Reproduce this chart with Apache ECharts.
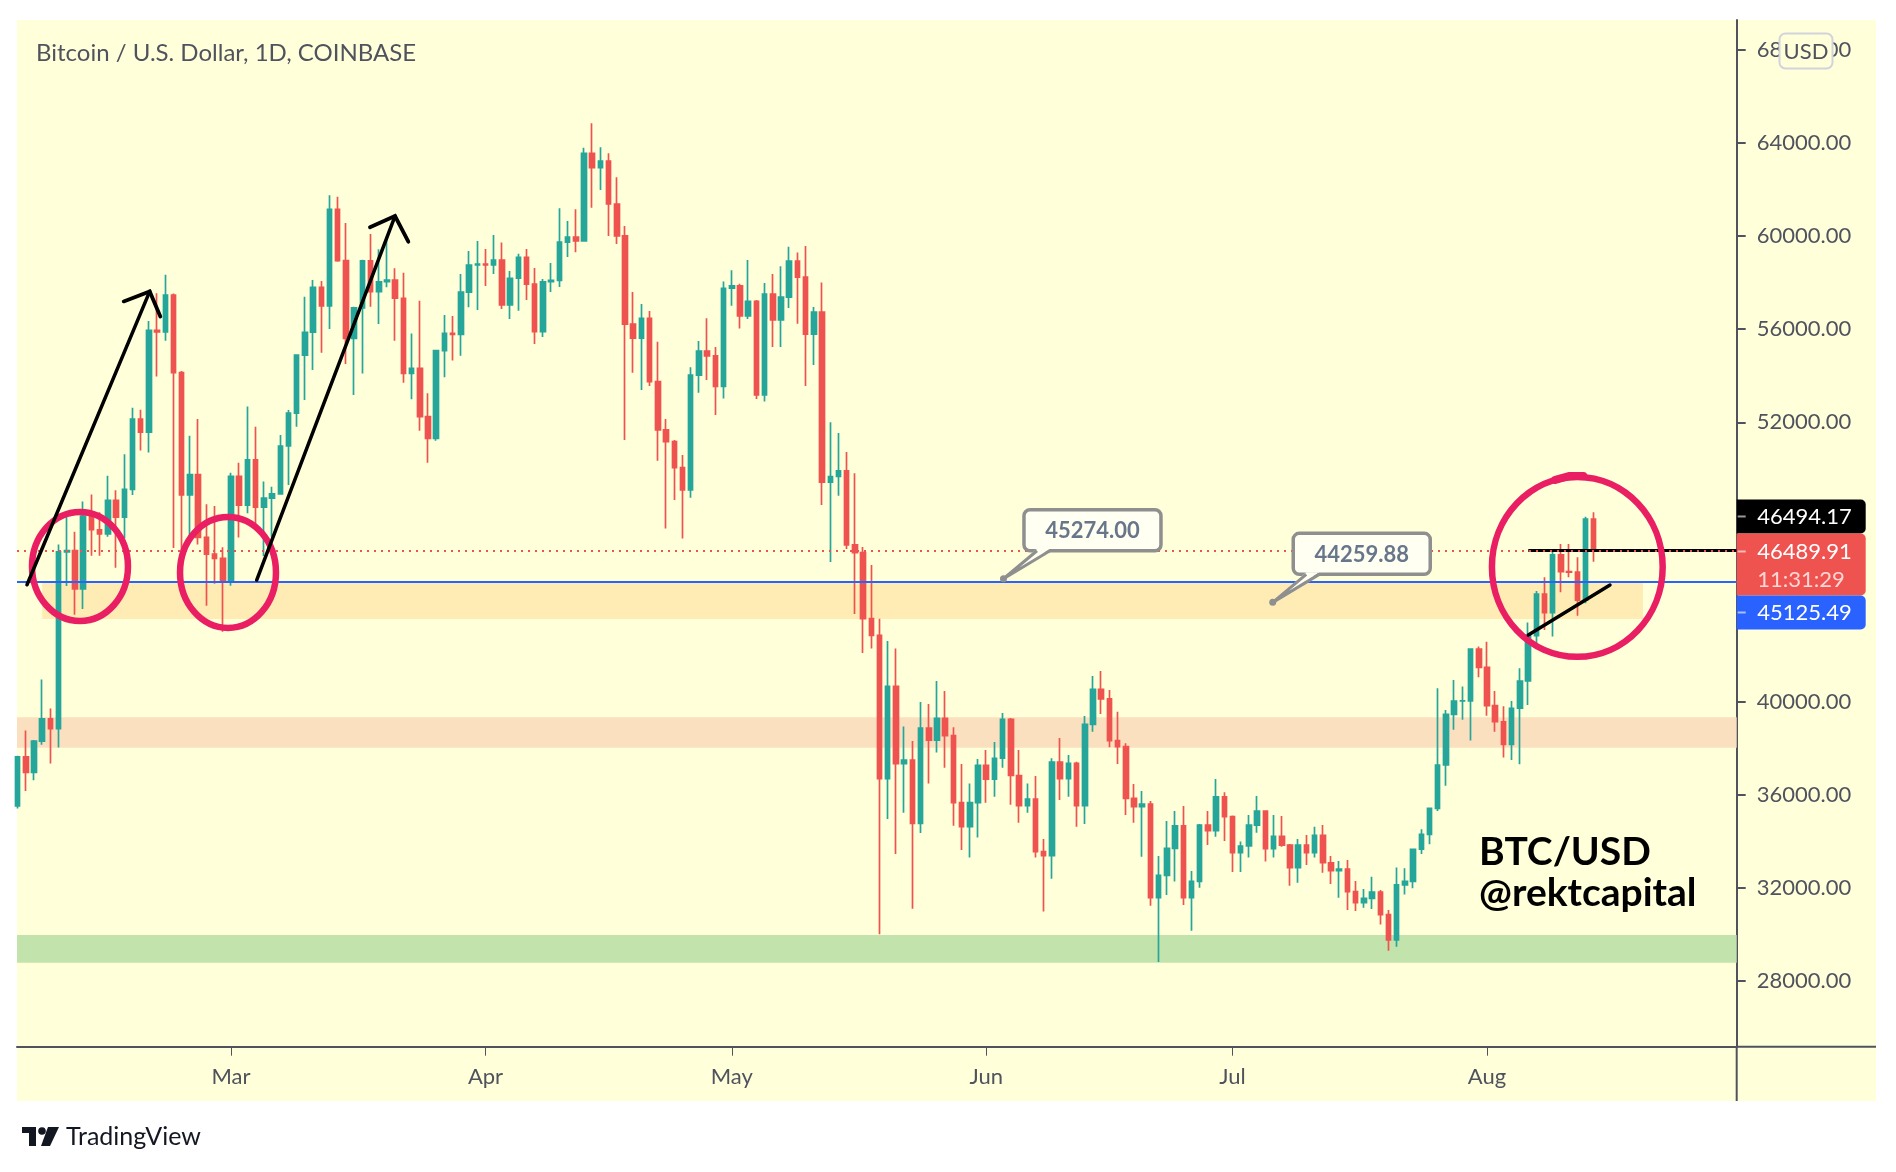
<!DOCTYPE html>
<html><head><meta charset="utf-8">
<script src="https://cdn.jsdelivr.net/npm/echarts@6/dist/echarts.min.js"></script>
<style>html,body{margin:0;padding:0;background:#fff}#c{width:1896px;height:1172px}</style>
</head><body><div id="c"></div><script>
// ---------------- DATA ----------------
const dates = [
'2021-02-03','2021-02-04','2021-02-05','2021-02-06','2021-02-07','2021-02-08','2021-02-09','2021-02-10','2021-02-11','2021-02-12','2021-02-13','2021-02-14','2021-02-15','2021-02-16','2021-02-17','2021-02-18','2021-02-19','2021-02-20','2021-02-21','2021-02-22','2021-02-23','2021-02-24','2021-02-25','2021-02-26','2021-02-27','2021-02-28',
'2021-03-01','2021-03-02','2021-03-03','2021-03-04','2021-03-05','2021-03-06','2021-03-07','2021-03-08','2021-03-09','2021-03-10','2021-03-11','2021-03-12','2021-03-13','2021-03-14','2021-03-15','2021-03-16','2021-03-17','2021-03-18','2021-03-19','2021-03-20','2021-03-21','2021-03-22','2021-03-23','2021-03-24','2021-03-25','2021-03-26','2021-03-27','2021-03-28','2021-03-29','2021-03-30','2021-03-31',
'2021-04-01','2021-04-02','2021-04-03','2021-04-04','2021-04-05','2021-04-06','2021-04-07','2021-04-08','2021-04-09','2021-04-10','2021-04-11','2021-04-12','2021-04-13','2021-04-14','2021-04-15','2021-04-16','2021-04-17','2021-04-18','2021-04-19','2021-04-20','2021-04-21','2021-04-22','2021-04-23','2021-04-24','2021-04-25','2021-04-26','2021-04-27','2021-04-28','2021-04-29','2021-04-30',
'2021-05-01','2021-05-02','2021-05-03','2021-05-04','2021-05-05','2021-05-06','2021-05-07','2021-05-08','2021-05-09','2021-05-10','2021-05-11','2021-05-12','2021-05-13','2021-05-14','2021-05-15','2021-05-16','2021-05-17','2021-05-18','2021-05-19','2021-05-20','2021-05-21','2021-05-22','2021-05-23','2021-05-24','2021-05-25','2021-05-26','2021-05-27','2021-05-28','2021-05-29','2021-05-30','2021-05-31',
'2021-06-01','2021-06-02','2021-06-03','2021-06-04','2021-06-05','2021-06-06','2021-06-07','2021-06-08','2021-06-09','2021-06-10','2021-06-11','2021-06-12','2021-06-13','2021-06-14','2021-06-15','2021-06-16','2021-06-17','2021-06-18','2021-06-19','2021-06-20','2021-06-21','2021-06-22','2021-06-23','2021-06-24','2021-06-25','2021-06-26','2021-06-27','2021-06-28','2021-06-29','2021-06-30',
'2021-07-01','2021-07-02','2021-07-03','2021-07-04','2021-07-05','2021-07-06','2021-07-07','2021-07-08','2021-07-09','2021-07-10','2021-07-11','2021-07-12','2021-07-13','2021-07-14','2021-07-15','2021-07-16','2021-07-17','2021-07-18','2021-07-19','2021-07-20','2021-07-21','2021-07-22','2021-07-23','2021-07-24','2021-07-25','2021-07-26','2021-07-27','2021-07-28','2021-07-29','2021-07-30','2021-07-31',
'2021-08-01','2021-08-02','2021-08-03','2021-08-04','2021-08-05','2021-08-06','2021-08-07','2021-08-08','2021-08-09','2021-08-10','2021-08-11','2021-08-12','2021-08-13','2021-08-14'
];
const open = [
35510,37620,36950,38300,39255,38830,46430,46480,44840,47970,47380,47200,48640,47920,49120,52140,51580,55950,55880,57470,54130,48880,49750,47050,46330,46150,
45150,49680,48440,50380,48350,48740,48920,50980,52390,54890,55870,57800,57000,61150,58950,55610,56920,58940,57610,58040,58110,57330,54100,54320,52240,51310,55080,55820,55780,57590,58760,
58800,58760,58970,57040,58190,59090,57940,55900,58040,58100,59740,59960,59800,63560,62940,63230,61380,60010,56220,55620,56470,53750,51670,51170,50050,49090,54030,55060,54850,53540,
57760,57860,56570,57200,53180,57510,56400,57380,58930,58240,55790,56740,49430,49670,49910,46730,46400,43560,42840,36680,40650,37330,37480,34760,38860,38340,39280,38530,35650,34620,35650,
37260,36660,37560,39230,36820,35520,35800,33550,33370,37390,36680,37340,35520,39020,40520,40110,38320,38060,35840,35480,35590,31570,32530,33690,34650,31570,32270,34690,34450,35900,
35050,33500,33790,34690,35290,33670,34200,33830,32860,33830,33500,34250,33070,32730,32800,31830,31350,31540,31810,30840,29750,32120,32270,33650,34290,35410,37270,39450,40020,40030,42250,
41470,39820,39130,38160,39710,40880,42830,44610,43820,46300,45580,45560,44360,47840
];
const high = [
37670,38750,38350,40950,39700,46750,48100,47300,48600,48900,48130,49700,49080,50630,52620,52540,56350,57550,58340,57530,54200,51420,52140,48480,48400,46630,
49830,50265,52680,51810,49450,49230,51450,52530,54920,57400,58110,58070,61760,61690,60560,56970,58980,60090,59440,59900,58620,58430,55820,57220,53250,55110,56610,56570,58370,59360,59790,
59450,60050,59730,58500,59240,59450,58630,58160,58850,61200,60650,61160,63800,64850,63820,63560,62530,60440,57600,57080,56780,55460,52140,51240,50590,54360,55490,56470,55240,58050,
58530,57950,58970,57250,57990,58370,58710,59540,59300,59580,56950,58010,52000,51540,50720,49810,46640,45870,43560,42600,42280,38920,38300,39980,39890,40880,40450,38890,37310,36480,37530,
37910,38260,39500,39290,37910,36480,36800,34090,37560,38430,37700,37410,39380,41100,41310,40490,39560,38200,36450,36150,35720,33360,34860,35290,35510,32720,34730,35290,36670,36100,
35100,33980,35120,35940,35300,35120,35080,33880,34090,34260,34620,34690,33360,33140,33190,32290,31940,32470,31900,31040,32860,32830,33680,34510,35420,40570,39630,40920,40640,42290,42360,
42570,40450,39800,40020,41430,43400,44750,45340,46510,46770,46770,46200,47940,48130
];
const low = [
35400,36150,36620,38140,37330,38020,44960,43730,43980,46260,46260,47080,45750,47020,48870,50790,50700,53970,55500,46600,44900,46970,46750,44110,45060,43000,
44975,47050,48090,47510,46250,47080,48900,49300,51810,52960,54250,54990,56010,58900,54500,53170,54100,56970,56220,57800,55500,53700,52990,51640,50260,51210,53930,54650,54860,56940,56830,
57860,58370,56870,56440,56790,57250,55360,55660,57600,57810,59100,59310,59790,61220,61980,60010,59660,51240,54130,53390,53560,50350,47440,48660,47010,48760,53270,53820,52310,53020,
57010,56030,56440,53000,52890,55230,55230,56910,56230,53560,54460,48440,46000,48840,46550,43760,42080,42280,30000,34950,33450,35220,31090,34350,36470,37810,37150,34660,33620,33290,34150,
35650,35910,37150,35560,34790,35220,33290,30970,32380,35770,35910,34620,34730,38700,39460,38030,37310,35120,34790,33330,31220,28800,31680,32260,31250,30150,32000,33830,34190,34000,
32670,32670,33290,34360,33120,33290,33760,32080,32210,32970,33290,32640,32160,31570,31040,31000,31140,31080,30420,29290,29460,31700,31970,33450,33860,35290,36380,38780,39210,38320,41040,
39390,38700,37590,37490,37300,39850,42460,43070,42790,44700,45340,43690,44220,46010
];
const close = [
37620,36950,38300,39255,38830,46430,46480,44840,47970,47380,47200,48640,47920,49120,52140,51580,55950,55880,57470,54130,48880,49750,47050,46330,46150,45150,
49680,48440,50380,48350,48740,48920,50980,52390,54890,55870,57800,57000,61150,58950,55610,56920,58940,57610,58040,58110,57330,54100,54320,52240,51310,55080,55820,55780,57590,58760,58800,
58760,58970,57040,58190,59090,57940,55900,58040,58100,59740,59960,59800,63560,62940,63230,61380,60010,56220,55620,56470,53750,51670,51170,50050,49090,54030,55060,54850,53540,57760,
57860,56570,57200,53180,57510,56400,57380,58930,58240,55790,56740,49430,49670,49910,46730,46400,43560,42840,36680,40650,37330,37480,34760,38860,38340,39280,38530,35650,34620,35650,37260,
36660,37560,39230,36820,35520,35800,33550,33370,37390,36680,37340,35520,39020,40520,40110,38320,38060,35840,35480,35590,31570,32530,33690,34650,31570,32270,34690,34450,35900,35050,
33500,33790,34690,35290,33670,34200,33830,32860,33830,33500,34250,33070,32730,32800,31830,31350,31540,31810,30840,29750,32120,32270,33650,34290,35410,37270,39450,40020,40030,42250,41470,
39820,39130,38160,39710,40880,42830,44610,43820,46300,45580,45560,44360,47840,46489.91
];
const monthTickDates = ['2021-03-01','2021-04-01','2021-05-01','2021-06-01','2021-07-01','2021-08-01'];
const monthTickLabels = ['Mar','Apr','May','Jun','Jul','Aug'];
const priceTicks = [28000,32000,36000,40000,44000,48000,52000,56000,60000,64000,68000];

const lastPrice = 46489.91;
const countdownText = '11:31:29';
const rayPrice = 46494.17;
const bluePrice = 45125.49;
const zoneLow  = [43550, 38010, 28775];
const zoneHigh = [45110, 39320, 29965];
const zoneFrom = ['2021-02-06', null, null];
const zoneTo   = ['2021-08-20', null, null];
const calloutPrices = [45274.00, 44259.88];
const calloutDays = [94.1, 126.9]; // days after 2021-03-01

// ---------------- HELPERS ----------------
const ORIGIN = Date.parse('2021-03-01');
const dayOf = s => (Date.parse(s) - ORIGIN) / 86400000;
const X_MIN = -26.068, X_MAX = 183.417;
const Y_MIN = 25163.4, Y_MAX = 69289;
const monthTickDays = monthTickDates.map(dayOf);
const candleRows = dates.map((d, i) => [dayOf(d), open[i], close[i], low[i], high[i]]);

const AX = '#50535e';
const FONT = 'Lato, "Noto Sans", sans-serif';
const UP = '#26a69a', DOWN = '#ef5350';
const BG = '#ffffda';

const zoneColors = ['#ffecb5', '#fbe0bf', '#c3e3ad'];
const markAreaData = zoneLow.map((lo, i) => [
  {coord: [zoneFrom[i] ? dayOf(zoneFrom[i]) : X_MIN, zoneHigh[i]], itemStyle: {color: zoneColors[i], opacity: 1}},
  {coord: [zoneTo[i] ? dayOf(zoneTo[i]) : X_MAX, lo]}
]);

// annotations (data coordinates: [day after Mar 1, price])
const rayStartDay = 158.03;
const circleBoxes = [
  [-24.24, 48145, -12.55, 43460],
  [-6.21, 47930, 5.48, 43160],
  [153.6, 49650, 174.4, 41920]
];
const arrowLines = [
  [[-24.85, 45015], [-9.90, 57625]],
  [[3.13, 45221], [19.98, 60865]],
  [[158.03, 42858], [167.98, 45006]]
];
const arrowHeads = [
  [[-13.07, 57195], [-9.90, 57625], [-8.61, 56542]],
  [[16.93, 60380], [19.98, 60865], [21.60, 59761]]
];

const chart = echarts.init(document.getElementById('c'));
const option = {
  animation: false,
  backgroundColor: '#ffffff',
  grid: {left: 17, right: 159.3, top: 20, bottom: 125.3, containLabel: false},
  xAxis: {
    type: 'value', min: X_MIN, max: X_MAX, splitLine: {show: false},
    axisLine: {show: true, onZero: false, lineStyle: {color: AX, width: 2}},
    axisTick: {show: true, length: 9, customValues: monthTickDays, lineStyle: {color: AX, width: 1}},
    axisLabel: {customValues: monthTickDays, color: AX, fontSize: 22, fontFamily: FONT, margin: 19,
      formatter: v => { const k = monthTickDays.findIndex(d => Math.abs(d - v) < 0.01); return k >= 0 ? monthTickLabels[k] : ''; }}
  },
  yAxis: {
    type: 'value', position: 'right', min: Y_MIN, max: Y_MAX, splitLine: {show: false},
    axisLine: {show: true, onZero: false, lineStyle: {color: AX, width: 2}},
    axisTick: {show: true, length: 9, customValues: priceTicks, lineStyle: {color: AX, width: 2}},
    axisLabel: {customValues: priceTicks, color: AX, fontSize: 22, fontFamily: FONT, margin: 20,
      formatter: v => Number(v).toFixed(2)}
  },
  series: [{
    type: 'candlestick', data: candleRows, barWidth: 5, clip: true,
    itemStyle: {color: UP, color0: DOWN, borderColor: UP, borderColor0: DOWN, borderWidth: 1.7},
    markArea: {silent: true, data: markAreaData},
    markLine: {
      silent: true, symbol: 'none', label: {show: false}, animation: false,
      data: [
        [{coord: [rayStartDay, rayPrice], lineStyle: {color: '#000000', width: 3, type: 'solid'}}, {coord: [X_MAX, rayPrice]}],
        {yAxis: bluePrice, lineStyle: {color: '#2962ff', width: 2, type: 'solid'}},
        {yAxis: lastPrice, lineStyle: {color: DOWN, width: 2, type: [2, 5]}}
      ]
    }
  }]
};
chart.setOption(option);

// ---------------- OVERLAYS ----------------
const P = (x, y) => chart.convertToPixel({gridIndex: 0}, [x, y]);
const els = [];
const gx1 = P(X_MAX, Y_MIN);
const axisX = gx1[0], axisY = gx1[1];
// background
els.push({type: 'rect', z: -100, silent: true, shape: {x: 17, y: 20, width: 1859, height: 1081}, style: {fill: BG}});
// axis line extensions
els.push({type: 'line', z: 10, shape: {x1: axisX, y1: axisY, x2: 1876, y2: axisY}, style: {stroke: AX, lineWidth: 2}});
els.push({type: 'line', z: 10, shape: {x1: axisX, y1: axisY, x2: axisX, y2: 1101}, style: {stroke: AX, lineWidth: 2}});
// title
els.push({type: 'text', z: 20, style: {text: 'Bitcoin / U.S. Dollar, 1D, COINBASE', x: 36, y: 53, fill: AX, font: '24px ' + FONT, textAlign: 'left', textVerticalAlign: 'middle', verticalAlign: 'middle'}});
// circles
circleBoxes.forEach((b, i) => {
  const a = P(b[0], b[1]), c = P(b[2], b[3]);
  const cx = (a[0] + c[0]) / 2, cy = (a[1] + c[1]) / 2, rx = Math.abs(c[0] - a[0]) / 2, ry = Math.abs(c[1] - a[1]) / 2;
  els.push({type: 'ellipse', z: 60, shape: {cx: cx, cy: cy, rx: rx, ry: ry},
    style: {fill: null, stroke: '#e91e63', lineWidth: 6.5}});
  if (i === 2) {
    els.push({type: 'polyline', z: 60, shape: {points: [[cx - 22, cy - ry + 3], [cx - 8, cy - ry - 1], [cx + 6, cy - ry - 1]]},
      style: {stroke: '#e91e63', lineWidth: 8, lineCap: 'round', fill: null}});
  }
});
// arrows / trend line
arrowLines.forEach(l => {
  els.push({type: 'polyline', z: 61, shape: {points: l.map(p => P(p[0], p[1]))}, style: {stroke: '#000', lineWidth: 3.5, lineCap: 'round', fill: null}});
});
arrowHeads.forEach(l => {
  els.push({type: 'polyline', z: 61, shape: {points: l.map(p => P(p[0], p[1]))}, style: {stroke: '#000', lineWidth: 3.8, lineCap: 'round', lineJoin: 'miter', fill: null}});
});
// callouts
calloutPrices.forEach((pr, i) => {
  const t = P(calloutDays[i], pr);
  const bx = t[0] + 20.5, by = t[1] - 69, bw = 137, bh = 41;
  els.push({type: 'rect', z: 70, shape: {x: bx, y: by, width: bw, height: bh, r: 6}, style: {fill: '#fffff2', stroke: '#8f8f8f', lineWidth: 3.5}});
  els.push({type: 'polygon', z: 71, shape: {points: [[bx + 13, by + bh - 2], [bx + 26, by + bh - 2], t]}, style: {fill: '#fffff2'}});
  els.push({type: 'polyline', z: 72, shape: {points: [[bx + 13, by + bh], t, [bx + 26, by + bh]]}, style: {stroke: '#8f8f8f', lineWidth: 3, fill: null, lineJoin: 'round'}});
  els.push({type: 'circle', z: 73, shape: {cx: t[0], cy: t[1], r: 3.5}, style: {fill: '#8f8f8f'}});
  els.push({type: 'text', z: 74, style: {text: pr.toFixed(2), x: bx + bw / 2, y: by + bh / 2 + 1, fill: '#68768b', font: 'bold 22px ' + FONT, textAlign: 'center', textVerticalAlign: 'middle', verticalAlign: 'middle'}});
});
// watermark text
els.push({type: 'text', z: 80, style: {text: 'BTC/USD', x: 1479, y: 852, fill: '#000', font: 'bold 39px ' + FONT, textAlign: 'left', textVerticalAlign: 'middle', verticalAlign: 'middle'}});
els.push({type: 'text', z: 80, style: {text: '@rektcapital', x: 1479, y: 893, fill: '#000', font: 'bold 39px ' + FONT, textAlign: 'left', textVerticalAlign: 'middle', verticalAlign: 'middle'}});
// right scale price labels
const yl = P(0, lastPrice)[1];
const labW = 129;
const boxes = [
  {y: yl - 51, h: 34, fill: '#000000', lines: [[rayPrice.toFixed(2), yl - 34, '#ffffff']]},
  {y: yl - 17, h: 62, fill: DOWN, lines: [[lastPrice.toFixed(2), yl + 1, '#ffffff'], [countdownText, yl + 29, '#ffd6d6']]},
  {y: yl + 45, h: 34, fill: '#2962ff', lines: [[bluePrice.toFixed(2), yl + 62, '#ffffff']]}
];
boxes.forEach(b => {
  els.push({type: 'rect', z: 90, shape: {x: axisX, y: b.y, width: labW, height: b.h, r: [0, 5, 5, 0]}, style: {fill: b.fill}});
  b.lines.forEach((ln, k) => {
    els.push({type: 'text', z: 91, style: {text: ln[0], x: axisX + 20.5, y: ln[1], fill: ln[2], font: '22px ' + FONT, textAlign: 'left', textVerticalAlign: 'middle', verticalAlign: 'middle'}});
    if (k === 0) els.push({type: 'line', z: 91, shape: {x1: axisX + 1, y1: ln[1], x2: axisX + 9, y2: ln[1]}, style: {stroke: 'rgba(255,255,255,0.6)', lineWidth: 2}});
  });
});
// currency badge
els.push({type: 'rect', z: 90, shape: {x: 1779.5, y: 33.5, width: 53, height: 35, r: 6}, style: {fill: BG, stroke: '#d1d4dc', lineWidth: 2}});
els.push({type: 'text', z: 91, style: {text: 'USD', x: 1806, y: 51.5, fill: AX, font: '22px ' + FONT, textAlign: 'center', textVerticalAlign: 'middle', verticalAlign: 'middle'}});
// TradingView logo
els.push({type: 'rect', z: 20, shape: {x: 22, y: 1127, width: 14, height: 6}, style: {fill: '#131722'}});
els.push({type: 'rect', z: 20, shape: {x: 29, y: 1127, width: 7, height: 19}, style: {fill: '#131722'}});
els.push({type: 'circle', z: 20, shape: {cx: 42, cy: 1131, r: 3.8}, style: {fill: '#131722'}});
els.push({type: 'polygon', z: 20, shape: {points: [[48, 1127], [59, 1127], [50, 1146], [41, 1146]]}, style: {fill: '#131722'}});
els.push({type: 'text', z: 20, style: {text: 'TradingView', x: 66, y: 1137, fill: '#131722', font: '25px ' + FONT, textAlign: 'left', textVerticalAlign: 'middle', verticalAlign: 'middle'}});

chart.setOption({graphic: {elements: els}});
</script></body></html>
